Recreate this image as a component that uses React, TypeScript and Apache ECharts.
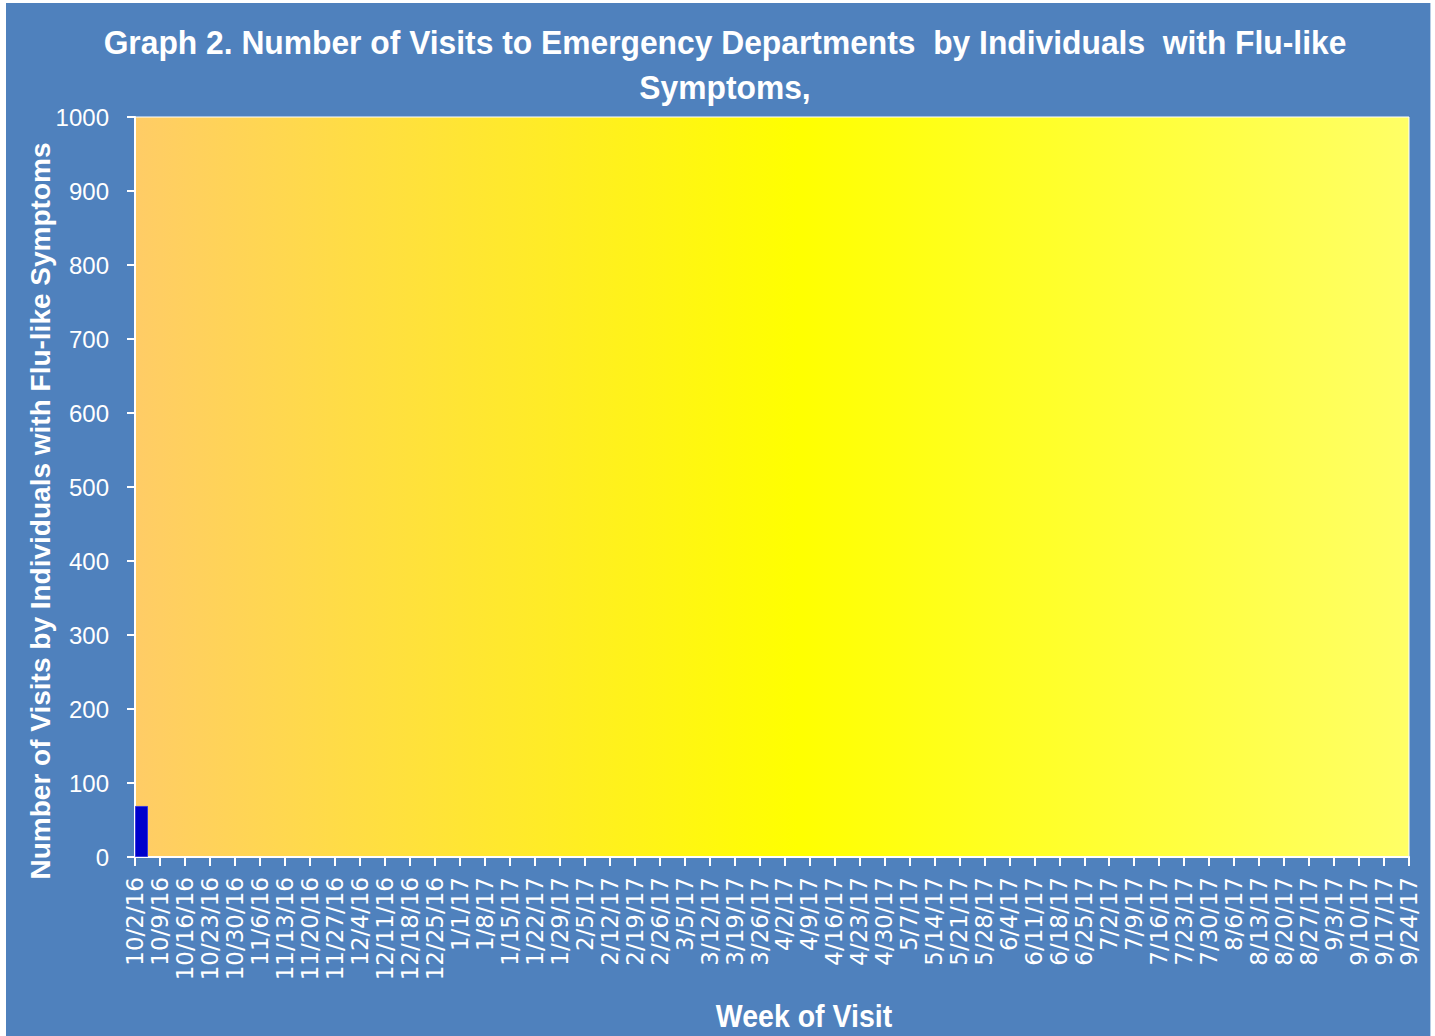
import React, { useEffect, useRef } from "react";
import * as echarts from "echarts";

const weeks = [
  "10/2/16", "10/9/16", "10/16/16", "10/23/16", "10/30/16", "11/6/16", "11/13/16", "11/20/16", "11/27/16",
  "12/4/16", "12/11/16", "12/18/16", "12/25/16", "1/1/17", "1/8/17", "1/15/17", "1/22/17", "1/29/17",
  "2/5/17", "2/12/17", "2/19/17", "2/26/17", "3/5/17", "3/12/17", "3/19/17", "3/26/17", "4/2/17",
  "4/9/17", "4/16/17", "4/23/17", "4/30/17", "5/7/17", "5/14/17", "5/21/17", "5/28/17", "6/4/17",
  "6/11/17", "6/18/17", "6/25/17", "7/2/17", "7/9/17", "7/16/17", "7/23/17", "7/30/17", "8/6/17",
  "8/13/17", "8/20/17", "8/27/17", "9/3/17", "9/10/17", "9/17/17", "9/24/17",
];
const visits = [69];
const yTicks = { min: 0, max: 1000, interval: 100 };

const titleLine1 =
  "Graph 2. Number of Visits to Emergency Departments  by Individuals  with Flu-like";
const titleLine2 = "Symptoms,";
const yTitle = "Number of Visits by Individuals with Flu-like Symptoms";
const xTitle = "Week of Visit";

export default function App() {
  const ref = useRef<HTMLDivElement>(null);
  useEffect(() => {
    document.body.style.margin = "0";
    if (!ref.current) return;
    const chart = echarts.init(ref.current, null, { renderer: "svg" });
    chart.setOption({
      animation: false,
      backgroundColor: "#4F81BD",
      grid: {
        left: 129,
        top: 114,
        right: 21,
        bottom: 179,
        show: true,
        borderColor: "#FFFFFF",
        borderWidth: 1,
        backgroundColor: new echarts.graphic.LinearGradient(0, 0, 1, 0, [
          { offset: 0, color: "#FFCC66" },
          { offset: 0.52, color: "#FFFF00" },
          { offset: 1, color: "#FFFF66" },
        ]),
      },
      xAxis: {
        type: "category",
        data: weeks,
        boundaryGap: false,
        axisLine: { lineStyle: { color: "#FFFFFF", width: 2 } },
        axisTick: { show: true, length: 9, interval: 0, lineStyle: { color: "#FFFFFF", width: 2 } },
        axisLabel: {
          interval: 0,
          rotate: 90,
          margin: 20,
          color: "#FFFFFF",
          fontFamily: "DejaVu Sans",
          fontSize: 23,
        },
        splitLine: { show: false },
      },
      yAxis: {
        type: "value",
        min: yTicks.min,
        max: yTicks.max,
        interval: yTicks.interval,
        axisLine: { show: true, lineStyle: { color: "#FFFFFF", width: 2 } },
        axisTick: { show: true, length: 8, lineStyle: { color: "#FFFFFF", width: 2 } },
        axisLabel: {
          margin: 26,
          color: "#FFFFFF",
          fontFamily: "Liberation Sans",
          fontSize: 24,
          formatter: (v: number) => String(v),
        },
        splitLine: { show: false },
      },
      graphic: [
        {
          type: "text",
          x: 719,
          y: 39,
          scaleX: 0.935,
          style: {
            text: titleLine1,
            fill: "#FFFFFF",
            font: "bold 34px 'Liberation Sans'",
            align: "center",
            verticalAlign: "middle",
          },
        },
        {
          type: "text",
          x: 719,
          y: 84,
          scaleX: 0.935,
          style: {
            text: titleLine2,
            fill: "#FFFFFF",
            font: "bold 34px 'Liberation Sans'",
            align: "center",
            verticalAlign: "middle",
          },
        },
        {
          type: "text",
          x: 34,
          y: 508,
          rotation: Math.PI / 2,
          style: {
            text: yTitle,
            fill: "#FFFFFF",
            font: "bold 28px 'Liberation Sans'",
            align: "center",
            verticalAlign: "middle",
          },
        },
        {
          type: "text",
          x: 798,
          y: 1013,
          scaleX: 0.92,
          style: {
            text: xTitle,
            fill: "#FFFFFF",
            font: "bold 31px 'Liberation Sans'",
            align: "center",
            verticalAlign: "middle",
          },
        },
      ],
      series: [
        {
          name: "spacer",
          type: "bar",
          data: [],
          barWidth: 13,
          barGap: "0%",
          silent: true,
        },
        {
          name: "Visits",
          type: "bar",
          data: visits,
          barWidth: 13,
          barGap: "0%",
          itemStyle: { color: "#0000CC", borderColor: "#3A3ADD", borderWidth: 1 },
        },
      ],
    });
    return () => chart.dispose();
  }, []);
  return (
    <div style={{ width: 1435, height: 1036, background: "#FFFFFF", position: "relative" }}>
      <div
        ref={ref}
        style={{
          position: "absolute",
          left: 6,
          top: 3,
          width: 1424,
          height: 1033,
          borderRight: "1px solid #B9CDE5",
        }}
      />
    </div>
  );
}
